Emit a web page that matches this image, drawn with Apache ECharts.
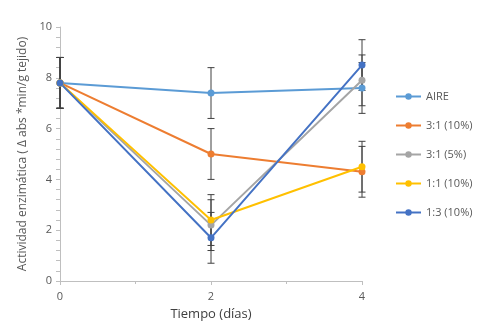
<!doctype html>
<html>
	<head>
		<meta charset="UTF-8">
		<title></title>
		<script src="https://cdn.jsdelivr.net/npm/echarts@6/dist/echarts.min.js"></script>
		<style>
			html, body { margin: 0; padding: 0; background: #fff; }
			#chart { width: 479px; height: 328px; }
		</style>
	</head>
	<body>
		<div id="chart"></div>
		<script>
			var dias = [0, 2, 4];
			var nombres = ['AIRE', '3:1 (10%)', '3:1 (5%)', '1:1 (10%)', '1:3 (10%)'];
			var colores = ['#5B9BD5', '#ED7D31', '#A5A5A5', '#FFC000', '#4472C4'];
			var aire = [7.8, 7.4, 7.6];
			var r31_10 = [7.8, 5.0, 4.3];
			var r31_5 = [7.8, 2.2, 7.9];
			var r11_10 = [7.8, 2.4, 4.5];
			var r13_10 = [7.8, 1.7, 8.5];
			var error = 1;

			var valores = [aire, r31_10, r31_5, r11_10, r13_10];
			var fuente = '"Open Sans", "Noto Sans", sans-serif';

			function lineSerie(i) {
				var d = [];
				for (var k = 0; k < dias.length; k++) {
					d.push([dias[k], valores[i][k]]);
				}
				return {
					name: nombres[i],
					type: 'line',
					symbol: 'circle',
					symbolSize: 7,
					z: 3,
					itemStyle: { color: colores[i] },
					lineStyle: { width: 2, color: colores[i] },
					data: d
				};
			}

			// barras de error (+/- 1)
			var errData = [];
			for (var i = 0; i < valores.length; i++) {
				for (var k = 0; k < dias.length; k++) {
					errData.push([dias[k], valores[i][k] - error, valores[i][k] + error]);
				}
			}
			var errSerie = {
				type: 'custom',
				z: 2,
				silent: true,
				renderItem: function(params, api) {
					var x = api.value(0);
					var lo = api.coord([x, api.value(1)]);
					var hi = api.coord([x, api.value(2)]);
					var w = 3.5;
					var st = { stroke: '#404040', lineWidth: 1 };
					return {
						type: 'group',
						children: [
							{ type: 'line', shape: { x1: lo[0], y1: lo[1], x2: hi[0], y2: hi[1] }, style: st },
							{ type: 'line', shape: { x1: lo[0] - w, y1: lo[1], x2: lo[0] + w, y2: lo[1] }, style: st },
							{ type: 'line', shape: { x1: hi[0] - w, y1: hi[1], x2: hi[0] + w, y2: hi[1] }, style: st }
						]
					};
				},
				encode: { x: 0, y: [1, 2] },
				data: errData
			};

			var series = [errSerie];
			for (var i = 0; i < valores.length; i++) {
				series.push(lineSerie(i));
			}

			var chart = echarts.init(document.getElementById('chart'));
			chart.setOption({
				animation: false,
				textStyle: { fontFamily: fuente },
				grid: { left: 60, right: 117, top: 27, bottom: 47 },
				legend: {
					orient: 'vertical',
					left: 390,
					top: 86,
					itemWidth: 25,
					itemHeight: 8,
					itemGap: 18,
					data: nombres,
					textStyle: { fontSize: 11, color: '#595959', fontFamily: fuente }
				},
				xAxis: {
					type: 'value',
					min: 0,
					max: 4,
					interval: 2,
					name: 'Tiempo (días)',
					nameLocation: 'middle',
					nameGap: 27,
					nameTextStyle: { fontSize: 13, color: '#404040' },
					axisLine: { lineStyle: { color: '#BFBFBF' } },
					axisTick: { show: true, length: 4, lineStyle: { color: '#BFBFBF' } },
					minorTick: { show: true, splitNumber: 2, length: 3, lineStyle: { color: '#BFBFBF' } },
					axisLabel: { fontSize: 11, color: '#595959', margin: 10 },
					splitLine: { show: false }
				},
				yAxis: {
					type: 'value',
					min: 0,
					max: 10,
					interval: 2,
					name: 'Actividad enzimática ( Δ abs *min/g tejido)',
					nameLocation: 'middle',
					nameGap: 27,
					nameTextStyle: { fontSize: 12, color: '#595959' },
					axisLine: { show: true, lineStyle: { color: '#BFBFBF' } },
					axisTick: { show: true, length: 4, lineStyle: { color: '#BFBFBF' } },
					minorTick: { show: true, splitNumber: 5, length: 4, lineStyle: { color: '#BFBFBF' } },
					axisLabel: { fontSize: 11, color: '#595959', margin: 8 },
					splitLine: { show: false }
				},
				series: series
			});
		</script>
	</body>
</html>
